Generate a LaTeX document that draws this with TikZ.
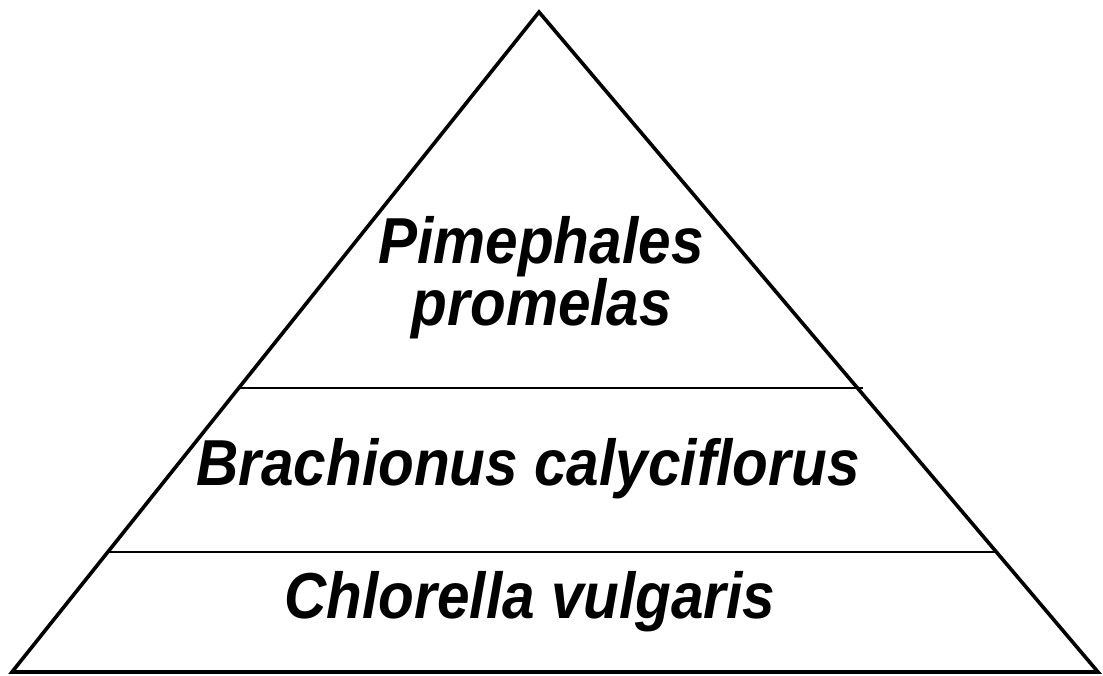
\documentclass[tikz,border=0pt]{standalone}
\usepackage{fontspec}
\setmainfont{Liberation Sans}
\newfontfamily\taxfont[FakeStretch=0.9]{Liberation Sans}
\usetikzlibrary{calc, positioning}
\tikzset{
  pyrside/.style={draw=black, line width=3.6pt, line join=miter},
  tierline/.style={draw=black, line width=2.8pt},
  taxlabel/.style={anchor=base, inner sep=0pt, font=\taxfont\fontsize{65}{57}\selectfont\bfseries\itshape},
}

\begin{document}
\begin{tikzpicture}[x=1pt, y=-1pt]
    \useasboundingbox (0,0) rectangle (1103,675);
    % outline of the pyramid
    \coordinate (apex) at (539,12);
    \coordinate (bl) at (12,672);
    \coordinate (br) at (1098,672);
    \draw[pyrside] (bl) -- (apex) -- (br) -- cycle;
    % tier boundaries
    \coordinate (lowL) at ($(bl)!0.1818!(apex)$);
    \coordinate (lowR) at ($(br)!0.1818!(apex)$);
    \coordinate (upL) at ($(bl)!0.4303!(apex)$);
    \coordinate (upR) at ($(br)!0.4303!(apex) + (6,0)$);
    \draw[tierline] (lowL) -- (lowR);
    \draw[tierline] (upL) -- (upR);
    % species
    \node[taxlabel] (fish1) at (541,263) {Pimephales};
    \node[taxlabel] (fish2) at (542,325) {promelas};
    \node[taxlabel] (rotifer) at (528,485) {Brachionus calyciflorus};
    \node[taxlabel] (alga) at (530,618) {Chlorella vulgaris};
\end{tikzpicture}
\end{document}
